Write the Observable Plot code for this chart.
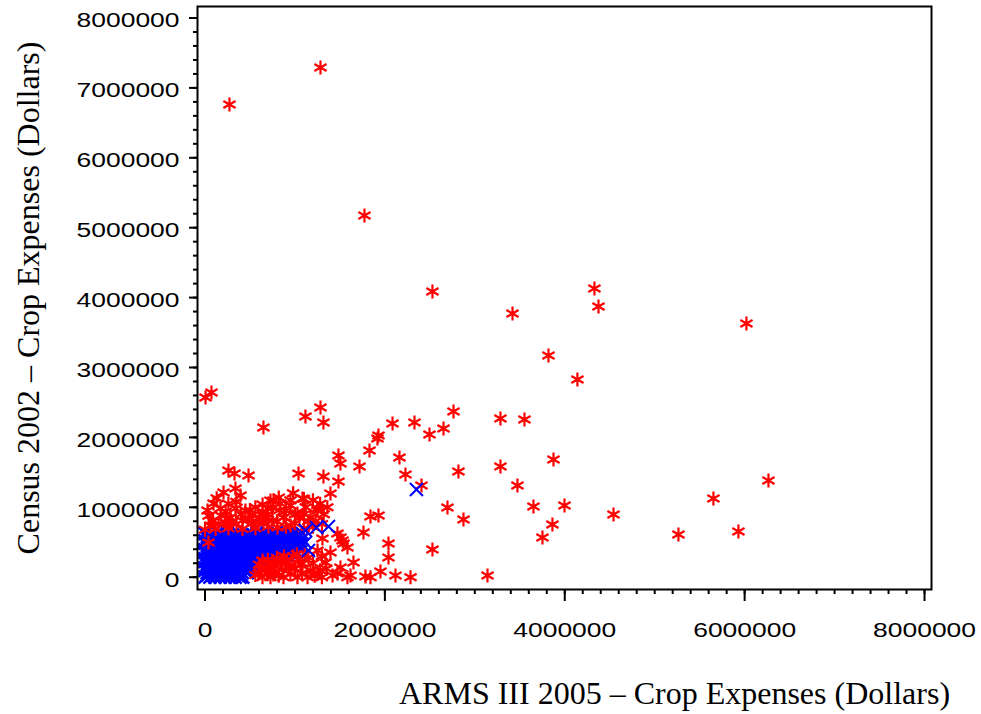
<!DOCTYPE html>
<html><head><meta charset="utf-8">
<script src="https://cdn.jsdelivr.net/npm/d3@7"></script>
<script src="https://cdn.jsdelivr.net/npm/@observablehq/plot@0.6"></script>
<style>html,body{margin:0;padding:0;background:#fff;} #chart{width:981px;height:714px;}</style>
</head><body><div id="chart"></div>
<script>
const xTitle = "ARMS III 2005 – Crop Expenses (Dollars)";
const yTitle = "Census 2002 – Crop Expenses (Dollars)";
const xTickValues = [0, 2000000, 4000000, 6000000, 8000000];
const yTickValues = [0, 1000000, 2000000, 3000000, 4000000, 5000000, 6000000, 7000000, 8000000];
const minorStep = 200000;

// Blue "x" markers (dense core): ARMS III 2005 vs Census 2002 crop expenses (dollars)
const blueCore = [
 [0,0],[55e3,0],[110e3,0],[170e3,0],[225e3,0],[280e3,0],[335e3,0],[390e3,0],[420e3,0],
 [28e3,32e3],[83e3,32e3],[138e3,32e3],[195e3,32e3],[250e3,32e3],[305e3,32e3],[362e3,32e3],[400e3,32e3],
 [25e3,65e3],[80e3,65e3],[140e3,65e3],[195e3,65e3],[250e3,65e3],[305e3,65e3],[360e3,65e3],[415e3,65e3],[470e3,65e3],
 [0,97e3],[52e3,97e3],[110e3,97e3],[167e3,97e3],[222e3,97e3],[278e3,97e3],[333e3,97e3],[388e3,97e3],[442e3,97e3],[490e3,97e3],
 [0,130e3],[50e3,130e3],[110e3,130e3],[165e3,130e3],[220e3,130e3],[280e3,130e3],[335e3,130e3],[390e3,130e3],[445e3,130e3],[500e3,130e3],[520e3,130e3],
 [22e3,162e3],[80e3,162e3],[137e3,162e3],[192e3,162e3],[250e3,162e3],[307e3,162e3],[362e3,162e3],[418e3,162e3],[472e3,162e3],[540e3,162e3],[570e3,162e3],
 [30e3,195e3],[85e3,195e3],[140e3,195e3],[195e3,195e3],[250e3,195e3],[310e3,195e3],[365e3,195e3],[420e3,195e3],[475e3,195e3],[530e3,195e3],[580e3,195e3],[600e3,195e3],
 [0,227e3],[58e3,227e3],[112e3,227e3],[168e3,227e3],[222e3,227e3],[280e3,227e3],[338e3,227e3],[392e3,227e3],[448e3,227e3],[502e3,227e3],[555e3,227e3],[610e3,227e3],[650e3,227e3],[690e3,227e3],
 [0,260e3],[55e3,260e3],[115e3,260e3],[170e3,260e3],[225e3,260e3],[285e3,260e3],[340e3,260e3],[395e3,260e3],[450e3,260e3],[505e3,260e3],[560e3,260e3],[615e3,260e3],[670e3,260e3],[720e3,260e3],[760e3,260e3],
 [28e3,292e3],[85e3,292e3],[142e3,292e3],[198e3,292e3],[255e3,292e3],[312e3,292e3],[368e3,292e3],[422e3,292e3],[478e3,292e3],[532e3,292e3],[588e3,292e3],[642e3,292e3],[698e3,292e3],[740e3,292e3],[790e3,292e3],[830e3,292e3],
 [25e3,325e3],[80e3,325e3],[140e3,325e3],[195e3,325e3],[250e3,325e3],[310e3,325e3],[365e3,325e3],[420e3,325e3],[475e3,325e3],[530e3,325e3],[590e3,325e3],[645e3,325e3],[700e3,325e3],[755e3,325e3],[810e3,325e3],[860e3,325e3],[900e3,325e3],
 [0,357e3],[52e3,357e3],[110e3,357e3],[168e3,357e3],[222e3,357e3],[280e3,357e3],[338e3,357e3],[392e3,357e3],[448e3,357e3],[502e3,357e3],[560e3,357e3],[618e3,357e3],[672e3,357e3],[728e3,357e3],[782e3,357e3],[838e3,357e3],[880e3,357e3],[930e3,357e3],[960e3,357e3],
 [0,390e3],[55e3,390e3],[110e3,390e3],[165e3,390e3],[225e3,390e3],[280e3,390e3],[335e3,390e3],[390e3,390e3],[445e3,390e3],[500e3,390e3],[560e3,390e3],[615e3,390e3],[670e3,390e3],[725e3,390e3],[780e3,390e3],[835e3,390e3],[890e3,390e3],[945e3,390e3],[1000e3,390e3],
 [28e3,422e3],[82e3,422e3],[138e3,422e3],[195e3,422e3],[252e3,422e3],[308e3,422e3],[362e3,422e3],[418e3,422e3],[472e3,422e3],[528e3,422e3],[588e3,422e3],[642e3,422e3],[698e3,422e3],[752e3,422e3],[808e3,422e3],[862e3,422e3],[918e3,422e3],[972e3,422e3],[1030e3,422e3],
 [30e3,455e3],[85e3,455e3],[140e3,455e3],[195e3,455e3],[250e3,455e3],[305e3,455e3],[360e3,455e3],[415e3,455e3],[470e3,455e3],[530e3,455e3],[585e3,455e3],[640e3,455e3],[695e3,455e3],[750e3,455e3],[805e3,455e3],[860e3,455e3],[915e3,455e3],[970e3,455e3],[1030e3,455e3],[1060e3,455e3],
 [0,487e3],[58e3,487e3],[112e3,487e3],[168e3,487e3],[222e3,487e3],[278e3,487e3],[332e3,487e3],[388e3,487e3],[442e3,487e3],[500e3,487e3],[558e3,487e3],[612e3,487e3],[668e3,487e3],[722e3,487e3],[778e3,487e3],[832e3,487e3],[888e3,487e3],[942e3,487e3],[1000e3,487e3],[1050e3,487e3],
 [0,520e3],[55e3,520e3],[110e3,520e3],[170e3,520e3],[225e3,520e3],[280e3,520e3],[335e3,520e3],[390e3,520e3],[445e3,520e3],[500e3,520e3],[560e3,520e3],[615e3,520e3],[670e3,520e3],[725e3,520e3],[780e3,520e3],[835e3,520e3],[890e3,520e3],[945e3,520e3],[1000e3,520e3],[1060e3,520e3],
 [28e3,548e3],[82e3,548e3],[140e3,548e3],[195e3,548e3],[250e3,548e3],[308e3,548e3],[362e3,548e3],[418e3,548e3],[472e3,548e3],[530e3,548e3],[588e3,548e3],[642e3,548e3],[698e3,548e3],[752e3,548e3],[808e3,548e3],[862e3,548e3],[918e3,548e3],[972e3,548e3],[1030e3,548e3],[1080e3,548e3],
 [30e3,575e3],[140e3,575e3],[250e3,575e3],[360e3,575e3],[470e3,575e3],[580e3,575e3],[690e3,575e3],[800e3,575e3],[910e3,575e3],[1020e3,575e3],
 [85e3,605e3],[195e3,605e3],[305e3,605e3],[415e3,605e3],[525e3,605e3],[635e3,605e3],[745e3,605e3],[860e3,605e3],[970e3,605e3],
 [0,625e3],[140e3,630e3],[250e3,625e3],[360e3,630e3],[470e3,625e3],[580e3,630e3],[690e3,625e3],[800e3,630e3],[910e3,625e3],[1030e3,630e3]
];
// Blue "x" markers outside the core
const blueTail = [
 [1117e3,668e3],[1084e3,625e3],[1240e3,711e3],[1373e3,725e3],[1151e3,382e3],[1117e3,496e3],[2351e3,1255e3]
];

// Red asterisk markers
const redPoints = [
 [1284e3,7292e3],[272e3,6762e3],[1773e3,5175e3],[2529e3,4087e3],[3419e3,3772e3],[4330e3,4130e3],[4375e3,3873e3],[6020e3,3629e3],[3819e3,3172e3],[4141e3,2828e3],
 [72e3,2642e3],[6e3,2571e3],[650e3,2142e3],[1284e3,2428e3],[1117e3,2299e3],[1317e3,2213e3],[2763e3,2371e3],[3285e3,2270e3],[3552e3,2256e3],[2085e3,2199e3],
 [2329e3,2213e3],[2652e3,2127e3],[2496e3,2041e3],[1929e3,2027e3],[1918e3,1984e3],[1829e3,1813e3],[1484e3,1741e3],[1506e3,1627e3],[2162e3,1712e3],[1718e3,1584e3],
 [3875e3,1684e3],[3285e3,1584e3],[2818e3,1512e3],[2229e3,1469e3],[1484e3,1369e3],[2407e3,1312e3],[3474e3,1312e3],[6265e3,1383e3],[5653e3,1126e3],[1395e3,1197e3],
 [2696e3,997e3],[3652e3,1011e3],[3997e3,1026e3],[4542e3,897e3],[2874e3,825e3],[1840e3,868e3],[1929e3,883e3],[3863e3,754e3],[3752e3,568e3],[5264e3,611e3],
 [5931e3,654e3],[1762e3,639e3],[1506e3,568e3],[2040e3,482e3],[2040e3,282e3],[2529e3,396e3],[1651e3,210e3],[3141e3,24e3],[2285e3,0],[2118e3,24e3],
 [1951e3,82e3],[1784e3,10e3],[1840e3,0],[1618e3,24e3],[1473e3,53e3],[1540e3,482e3],
 [1040e3,1484e3],[1317e3,1441e3],[1084e3,1126e3],[1251e3,983e3],[951e3,1026e3],[839e3,1054e3],[762e3,1097e3],[873e3,854e3],[1028e3,911e3],[1173e3,854e3],
 [806e3,711e3],[951e3,740e3],[1306e3,554e3],[1473e3,625e3],[1529e3,525e3],[1395e3,353e3],[1584e3,425e3],[1251e3,382e3],[1340e3,210e3],[1506e3,139e3],
 [1418e3,24e3],[1584e3,0],[1173e3,96e3],[1084e3,196e3],[951e3,139e3],[839e3,196e3],[762e3,168e3],[1028e3,0],[873e3,0],[1140e3,0],
 [261e3,1526e3],[328e3,1484e3],[484e3,1455e3],[206e3,1212e3],[339e3,1269e3],[395e3,1169e3],[95e3,1054e3],[28e3,954e3],[172e3,983e3],[339e3,983e3],
 [450e3,954e3],[284e3,854e3],[83e3,811e3],[228e3,783e3],[417e3,811e3],[528e3,883e3],[639e3,911e3],[728e3,1097e3],[695e3,983e3],[595e3,783e3],
 [750e3,811e3],[0,680e3],[117e3,690e3],[261e3,700e3],[417e3,690e3],[561e3,700e3],[706e3,720e3],[39e3,496e3],
 [595e3,53e3],[673e3,139e3],[750e3,196e3],[639e3,0],[728e3,0],
 [150e3,760e3],[350e3,760e3],[520e3,770e3],[650e3,780e3],[800e3,800e3],[900e3,720e3],[1000e3,770e3],[1100e3,700e3],[1200e3,720e3],[1150e3,800e3],
 [1050e3,850e3],[600e3,850e3],[300e3,790e3],[60e3,740e3],[700e3,900e3],[900e3,950e3],[1120e3,1000e3],[1200e3,1100e3],[1320e3,900e3],[1360e3,1000e3],
 [180e3,880e3],[400e3,900e3],[560e3,1000e3],[830e3,960e3],[980e3,1200e3],[130e3,1130e3],[260e3,1050e3],
 [1230e3,800e3],[1300e3,760e3],[90e3,800e3],[250e3,840e3],[480e3,820e3],[680e3,840e3],[880e3,860e3],[1000e3,900e3],[1100e3,900e3],
 [1250e3,950e3],[40e3,880e3],[230e3,940e3],[500e3,960e3],[750e3,990e3],[950e3,1100e3],[1100e3,1120e3],[350e3,1080e3],[640e3,1040e3],[820e3,1140e3],[1280e3,1050e3],
 [600e3,180e3],[620e3,110e3],[690e3,60e3],[700e3,250e3],[780e3,90e3],[800e3,280e3],[820e3,20e3],[860e3,110e3],[880e3,300e3],[910e3,220e3],
 [950e3,40e3],[980e3,300e3],[1000e3,120e3],[1040e3,260e3],[1080e3,60e3],[1110e3,330e3],[1200e3,200e3],[1220e3,20e3],[1280e3,100e3],[1300e3,300e3],
 [560e3,30e3],[640e3,240e3],[720e3,130e3],[760e3,40e3],[850e3,250e3],[930e3,150e3],[1020e3,330e3],[1060e3,180e3],[1150e3,280e3],[1250e3,50e3],[1350e3,120e3],[1300e3,0]
];

const starSymbol = {draw(ctx, size) {
  const r = Math.sqrt(size / Math.PI), t = r * 0.5, u = r * 0.87;
  ctx.moveTo(0, -r); ctx.lineTo(0, r);
  ctx.moveTo(-u, -t); ctx.lineTo(u, t);
  ctx.moveTo(-u, t); ctx.lineTo(u, -t);
}};
const timesSymbol = {draw(ctx, size) {
  const r = Math.sqrt(size / Math.PI);
  ctx.moveTo(-r, -r); ctx.lineTo(r, r);
  ctx.moveTo(-r, r); ctx.lineTo(r, -r);
}};

const serif = "'Liberation Serif', 'Times New Roman', serif";
const xMinor = d3.range(0, 8000001, minorStep);
const yMinor = d3.range(0, 8000001, minorStep);

const chart = Plot.plot({
  width: 981, height: 714,
  marginLeft: 197, marginRight: 50, marginTop: 6, marginBottom: 125,
  style: {fontFamily: "'Liberation Sans', Arial, sans-serif", fontSize: "20px", background: "#fff", color: "#000", overflow: "visible"},
  x: {domain: [-83400, 8077600], label: null},
  y: {domain: [-176000, 8164500], label: null},
  marks: [
    Plot.dot(blueCore, {x: d => d[0], y: d => d[1], symbol: timesSymbol, r: 6.5, stroke: "#0000ff", strokeWidth: 2.6, fill: "none"}),
    Plot.dot(redPoints, {x: d => d[0], y: d => d[1], symbol: starSymbol, r: 7, stroke: "#ff0000", strokeWidth: 2.2, fill: "none"}),
    Plot.dot(blueTail, {x: d => d[0], y: d => d[1], symbol: timesSymbol, r: 6.5, stroke: "#0000ff", strokeWidth: 2, fill: "none"}),
    Plot.axisX(xMinor, {tickSize: 5, tickFormat: () => "", strokeWidth: 2, label: null}),
    Plot.axisX(xTickValues, {tickSize: 12, tickFormat: () => "", strokeWidth: 2, label: null}),
    Plot.axisX(xTickValues, {tickSize: 0, tickPadding: 33, tickFormat: "d", label: null}),
    Plot.axisY(yMinor, {tickSize: 4, tickFormat: () => "", strokeWidth: 2, label: null}),
    Plot.axisY(yTickValues, {tickSize: 8, tickFormat: () => "", strokeWidth: 2, label: null}),
    Plot.axisY(yTickValues, {tickSize: 0, tickPadding: 18, dy: 3, tickFormat: "d", label: null}),
    Plot.frame({stroke: "#000", strokeWidth: 2}),
    Plot.text([xTitle], {text: d => d, frameAnchor: "bottom", textAnchor: "middle", lineAnchor: "middle", dx: 110, dy: 104, fontFamily: serif, fontSize: 32}),
    Plot.text([yTitle], {text: d => d, frameAnchor: "left", textAnchor: "middle", lineAnchor: "middle", dx: -169, rotate: -90, fontFamily: serif, fontSize: 32})
  ]
});

chart.querySelectorAll('g[aria-label="x-axis tick label"] text, g[aria-label="y-axis tick label"] text').forEach(t => {
  const n = t.textContent.length;
  if (n) { t.setAttribute("textLength", n * 14.7); t.setAttribute("lengthAdjust", "spacingAndGlyphs"); }
});
document.getElementById("chart").appendChild(chart);
</script>
</body></html>
